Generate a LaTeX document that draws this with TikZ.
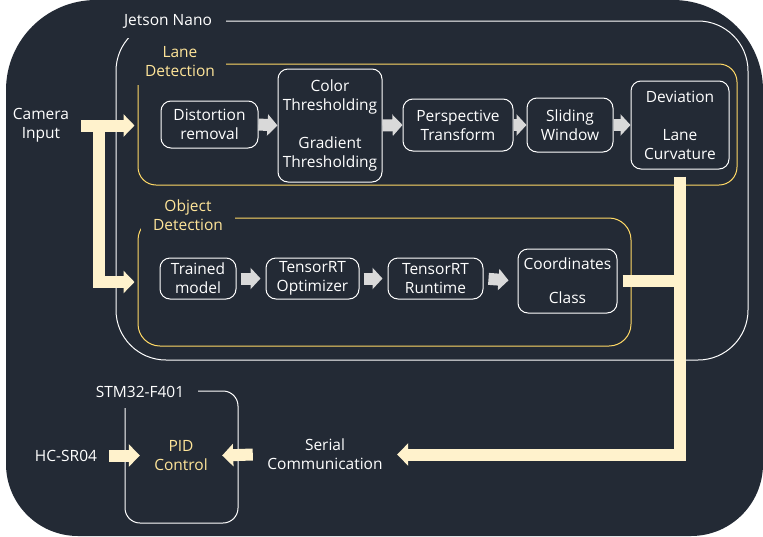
\documentclass[tikz,border=0pt]{standalone}
\usepackage{fontspec}
\setmainfont{Open Sans}
\usetikzlibrary{arrows.meta,calc}
\definecolor{bg}{HTML}{232A35}
\definecolor{cream}{HTML}{FFF2CC}
\definecolor{gold}{HTML}{FFD966}
\definecolor{lblyellow}{HTML}{FFE599}
\definecolor{arrowgray}{HTML}{D9D9D9}
\begin{document}
\begin{tikzpicture}[x=1pt,y=-1pt,
  font=\fontsize{15.5}{19}\selectfont,
  box/.style={draw=white, line width=1pt, rounded corners=10pt, fill=bg, text=white, align=center, inner sep=0pt},
  wframe/.style={draw=white, line width=1pt, inner sep=0pt},
  yframe/.style={draw=gold, line width=1pt, inner sep=0pt},
  lbl/.style={fill=bg, inner sep=0pt, align=center},
  plain/.style={inner sep=0pt, align=center, text=white},
  creamline/.style={draw=cream, line width=12pt, line join=miter},
  creamtip/.style={-{Triangle[length=11pt,width=22pt]}},
  grayarrow/.style={draw=arrowgray, line width=12pt, -{Triangle[length=10pt,width=21pt]}}
]
\useasboundingbox (0,0) rectangle (763,536);
\fill[white] (0,0) rectangle (763,536);
% dark panel
\fill[bg] (6,268) [rounded corners=90pt] -- (6,0) -- (763,0) -- (763,268)
  [rounded corners=72pt] -- (763,536) -- (6,536) -- cycle;

% frames
\node[wframe, rounded corners=50pt, minimum width=632pt, minimum height=339pt] (jetson) at (432,190.5) {};
\node[yframe, rounded corners=18pt, minimum width=599pt, minimum height=121pt] (lane) at (437.5,124.5) {};
\node[yframe, rounded corners=22pt, minimum width=493pt, minimum height=128pt] (obj) at (384.5,282) {};
\node[wframe, rounded corners=15pt, minimum width=113pt, minimum height=132pt] (stm) at (181.5,457) {};

% frame labels
\node[lbl, text=white, minimum width=116pt, minimum height=34pt] (jetsonlbl) at (168,21) {Jetson Nano};
\node[lbl, text=lblyellow, minimum width=92pt, minimum height=46pt] (lanelbl) at (180,62) {Lane\\Detection};
\node[lbl, text=lblyellow, minimum width=94pt, minimum height=30pt] (objlbl) at (188,215) {Object\\Detection};
\node[lbl, text=white, minimum width=116pt, minimum height=32pt] (stmlbl) at (140,392) {STM32-F401};

% lane detection boxes
\node[box, minimum width=97pt, minimum height=47pt] (dist) at (209.5,124.5) {Distortion\\removal};
\node[box, minimum width=104pt, minimum height=113pt] (thr) at (330,125.5) {Color\\Thresholding\\[19pt]Gradient\\Thresholding};
\node[box, minimum width=110pt, minimum height=52pt] (persp) at (458,125) {Perspective\\Transform};
\node[box, minimum width=86pt, minimum height=54pt] (slide) at (570,125) {Sliding\\Window};
\node[box, minimum width=98pt, minimum height=88pt] (dev) at (680,125) {Deviation\\[19pt]Lane\\Curvature};

% object detection boxes
\node[box, minimum width=76pt, minimum height=41pt] (trained) at (198,278.5) {Trained\\model};
\node[box, minimum width=93pt, minimum height=41pt] (opt) at (312.5,278.5) {TensorRT\\Optimizer};
\node[box, minimum width=95pt, minimum height=41pt] (run) at (435.5,278.5) {TensorRT\\Runtime};
\node[box, minimum width=99pt, minimum height=64pt] (coord) at (567.5,281) {Coordinates\\[15pt]Class};

% free texts
\node[plain, minimum width=80pt] (cam) at (41,125.5) {Camera\\Input};
\node[plain, minimum width=144pt] (serial) at (325,454.5) {Serial\\Communication};
\node[plain, minimum width=86pt] (hc) at (66,455.5) {HC-SR04};
\node[plain, text=lblyellow, minimum width=82pt] (pid) at (181,455.5) {PID\\Control};
\coordinate (split) at (99,125.5);

% gray arrows
\draw[grayarrow] (dist.east) -- (thr.west);
\draw[grayarrow] (thr.east) -- (persp.west);
\draw[grayarrow] (persp.east) -- (slide.west);
\draw[grayarrow] (slide.east) -- (dev.west);
\draw[grayarrow, shorten <=4pt, shorten >=5pt] (trained.east) -- (opt.west);
\draw[grayarrow, shorten <=4pt, shorten >=5pt] (opt.east) -- (run.west);
\draw[grayarrow, shorten <=5pt, shorten >=9pt] (run.east) -- (coord.west);

% cream connectors
\draw[creamline, creamtip, shorten >=3pt] (cam.east) -- (cam.east -| lane.west);
\draw[creamline, creamtip, shorten >=3pt] (split) |- (obj.west);
\draw[creamline, creamtip, shorten <=7pt] (dev.south) |- (serial.east);
\draw[creamline, shorten <=5pt] (coord.east) -- (coord.east -| dev.south);
\draw[creamline, creamtip] (hc.east) -- (pid.west);
\draw[creamline, creamtip] (serial.west) -- (pid.east);
\end{tikzpicture}
\end{document}
